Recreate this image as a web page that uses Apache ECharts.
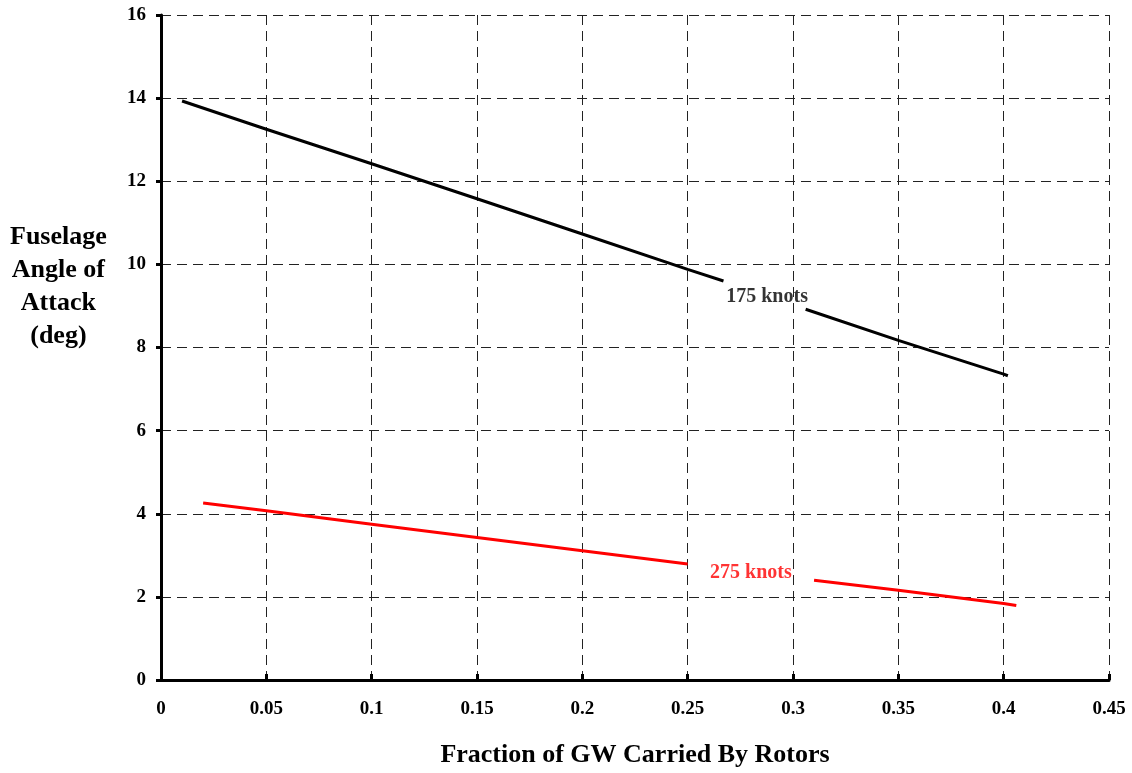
<!DOCTYPE html>
<html>
<head>
<meta charset="utf-8">
<script src="https://cdn.jsdelivr.net/npm/echarts@6/dist/echarts.min.js"></script>
<style>
  html, body { margin: 0; padding: 0; background: #fff; }
  #chart { width: 1132px; height: 773px; }
</style>
</head>
<body>
<div id="chart"></div>
<script>
// Fuselage angle of attack vs. fraction of gross weight carried by rotors
const xTicks = { min: 0, max: 0.45, step: 0.05 };
const yTicks = { min: 0, max: 16, step: 2 };

// 175 knots, split where the label sits
const fraction175a = [0.01, 0.05, 0.10, 0.15, 0.20, 0.25, 0.267];
const aoa175a      = [13.93, 13.25, 12.42, 11.58, 10.73, 9.88, 9.60];
const fraction175b = [0.306, 0.35, 0.40, 0.402];
const aoa175b      = [8.92, 8.17, 7.36, 7.32];

// 275 knots, split where the label sits
const fraction275a = [0.02, 0.05, 0.10, 0.15, 0.20, 0.25];
const aoa275a      = [4.26, 4.07, 3.75, 3.43, 3.11, 2.79];
const fraction275b = [0.31, 0.35, 0.40, 0.406];
const aoa275b      = [2.40, 2.16, 1.84, 1.79];

const labels = [
  { text: '175 knots', x: 0.2877, y: 9.22, color: '#000000' },
  { text: '275 knots', x: 0.280, y: 2.59, color: '#ff0000' }
];

const font = '"Liberation Serif", "Times New Roman", serif';
const pairs = (xs, ys) => xs.map((x, i) => [x, ys[i]]);

function segment(xs, ys, color) {
  return {
    type: 'line',
    data: pairs(xs, ys),
    showSymbol: false,
    symbol: 'none',
    smooth: false,
    lineStyle: { color: color, width: 3 },
    z: 3,
    silent: true
  };
}

const chart = echarts.init(document.getElementById('chart'), null, { renderer: 'canvas' });

chart.setOption({
  backgroundColor: '#ffffff',
  animation: false,
  grid: { left: 161, width: 948, top: 15, height: 680, containLabel: false },
  xAxis: {
    type: 'value',
    min: xTicks.min,
    max: xTicks.max,
    interval: xTicks.step,
    axisLine: { show: true, lineStyle: { color: '#000', width: 3 } },
    axisTick: { show: true, inside: true, length: 6, lineStyle: { color: '#000', width: 3 } },
    axisLabel: {
      color: '#000', fontFamily: font, fontWeight: 'bold', fontSize: 19, margin: 20,
      formatter: v => String(+v.toFixed(2))
    },
    splitLine: { show: true, lineStyle: { color: '#222', width: 1, type: [10, 6] } },
    name: 'Fraction of GW Carried By Rotors',
    nameLocation: 'middle',
    nameGap: 62,
    nameTextStyle: { color: '#000', fontFamily: font, fontWeight: 'bold', fontSize: 26 }
  },
  yAxis: {
    type: 'value',
    min: yTicks.min,
    max: yTicks.max,
    interval: yTicks.step,
    axisLine: { show: true, lineStyle: { color: '#000', width: 3 } },
    axisTick: { show: true, inside: false, length: 5, lineStyle: { color: '#000', width: 3 } },
    axisLabel: { color: '#000', fontFamily: font, fontWeight: 'bold', fontSize: 19, margin: 15 },
    splitLine: { show: true, lineStyle: { color: '#222', width: 1, type: [10, 6] } }
  },
  graphic: [{
    type: 'text',
    left: 10,
    top: 221,
    style: {
      text: 'Fuselage\nAngle of\nAttack\n(deg)',
      font: 'bold 26px ' + font,
      fill: '#000',
      textAlign: 'center',
      lineHeight: 33,
      x: 52
    }
  }],
  series: [
    segment(fraction175a, aoa175a, '#000000'),
    segment(fraction175b, aoa175b, '#000000'),
    segment(fraction275a, aoa275a, '#ff0000'),
    segment(fraction275b, aoa275b, '#ff0000'),
    {
      type: 'scatter',
      symbolSize: 0,
      silent: true,
      z: 4,
      data: labels.map(l => ({
        value: [l.x, l.y],
        label: {
          show: true,
          position: 'inside',
          formatter: l.text,
          color: l.color,
          fontFamily: font,
          fontWeight: 'bold',
          fontSize: 20
        }
      }))
    }
  ]
});
</script>
</body>
</html>
